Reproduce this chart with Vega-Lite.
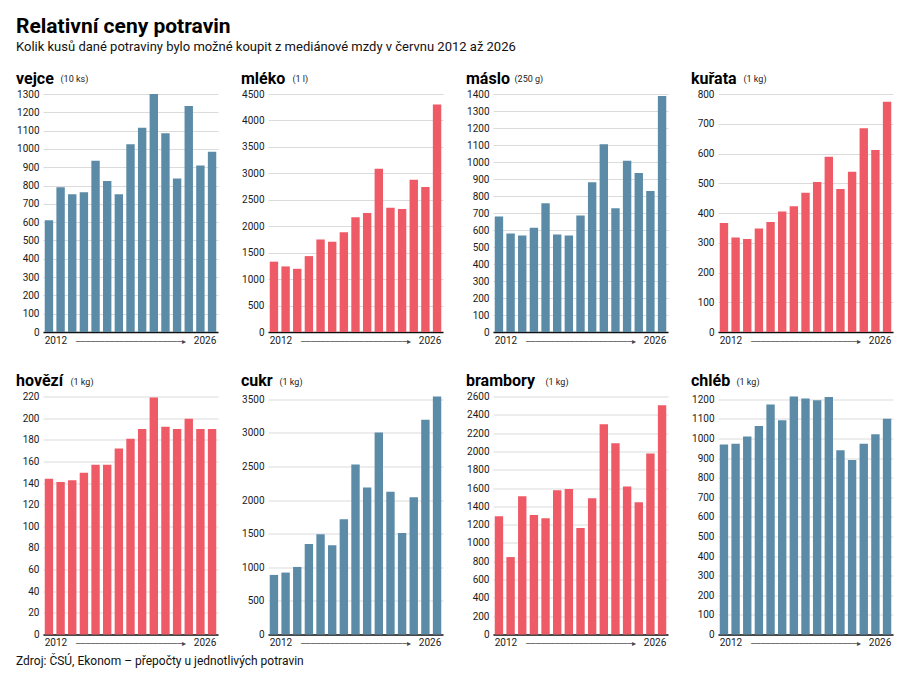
{
  "$schema": "https://vega.github.io/schema/vega-lite/v6.json",
  "description": "Relativní ceny potravin: kolik kusů dané potraviny bylo možné koupit z mediánové mzdy, 2012 až 2026.",
  "background": "#ffffff",
  "padding": {"left": 16, "top": 16, "right": 4, "bottom": 2},
  "title": {
    "text": "Relativní ceny potravin",
    "subtitle": "Kolik kusů dané potraviny bylo možné koupit z mediánové mzdy v červnu 2012 až 2026",
    "font": "Roboto",
    "fontSize": 21,
    "fontWeight": "bold",
    "subtitleFont": "Roboto",
    "subtitleFontSize": 13,
    "subtitleColor": "#111",
    "subtitlePadding": -3,
    "offset": -0.5,
    "baseline": "alphabetic"
  },
  "datasets": {
    "ceny": [
      {"potravina": "vejce", "rok": 2012, "pocet": 610},
      {"potravina": "vejce", "rok": 2013, "pocet": 790},
      {"potravina": "vejce", "rok": 2014, "pocet": 752},
      {"potravina": "vejce", "rok": 2015, "pocet": 763},
      {"potravina": "vejce", "rok": 2016, "pocet": 935},
      {"potravina": "vejce", "rok": 2017, "pocet": 825},
      {"potravina": "vejce", "rok": 2018, "pocet": 752},
      {"potravina": "vejce", "rok": 2019, "pocet": 1025},
      {"potravina": "vejce", "rok": 2020, "pocet": 1115},
      {"potravina": "vejce", "rok": 2021, "pocet": 1300},
      {"potravina": "vejce", "rok": 2022, "pocet": 1085},
      {"potravina": "vejce", "rok": 2023, "pocet": 838},
      {"potravina": "vejce", "rok": 2024, "pocet": 1235},
      {"potravina": "vejce", "rok": 2025, "pocet": 910},
      {"potravina": "vejce", "rok": 2026, "pocet": 985},
      {"potravina": "mléko", "rok": 2012, "pocet": 1330},
      {"potravina": "mléko", "rok": 2013, "pocet": 1240},
      {"potravina": "mléko", "rok": 2014, "pocet": 1195},
      {"potravina": "mléko", "rok": 2015, "pocet": 1435},
      {"potravina": "mléko", "rok": 2016, "pocet": 1750},
      {"potravina": "mléko", "rok": 2017, "pocet": 1705},
      {"potravina": "mléko", "rok": 2018, "pocet": 1885},
      {"potravina": "mléko", "rok": 2019, "pocet": 2170},
      {"potravina": "mléko", "rok": 2020, "pocet": 2250},
      {"potravina": "mléko", "rok": 2021, "pocet": 3085},
      {"potravina": "mléko", "rok": 2022, "pocet": 2350},
      {"potravina": "mléko", "rok": 2023, "pocet": 2325},
      {"potravina": "mléko", "rok": 2024, "pocet": 2880},
      {"potravina": "mléko", "rok": 2025, "pocet": 2740},
      {"potravina": "mléko", "rok": 2026, "pocet": 4300},
      {"potravina": "máslo", "rok": 2012, "pocet": 679},
      {"potravina": "máslo", "rok": 2013, "pocet": 580},
      {"potravina": "máslo", "rok": 2014, "pocet": 568},
      {"potravina": "máslo", "rok": 2015, "pocet": 613},
      {"potravina": "máslo", "rok": 2016, "pocet": 758},
      {"potravina": "máslo", "rok": 2017, "pocet": 574},
      {"potravina": "máslo", "rok": 2018, "pocet": 568},
      {"potravina": "máslo", "rok": 2019, "pocet": 685},
      {"potravina": "máslo", "rok": 2020, "pocet": 881},
      {"potravina": "máslo", "rok": 2021, "pocet": 1104},
      {"potravina": "máslo", "rok": 2022, "pocet": 728},
      {"potravina": "máslo", "rok": 2023, "pocet": 1008},
      {"potravina": "máslo", "rok": 2024, "pocet": 936},
      {"potravina": "máslo", "rok": 2025, "pocet": 830},
      {"potravina": "máslo", "rok": 2026, "pocet": 1388},
      {"potravina": "kuřata", "rok": 2012, "pocet": 366},
      {"potravina": "kuřata", "rok": 2013, "pocet": 318},
      {"potravina": "kuřata", "rok": 2014, "pocet": 313},
      {"potravina": "kuřata", "rok": 2015, "pocet": 348},
      {"potravina": "kuřata", "rok": 2016, "pocet": 370},
      {"potravina": "kuřata", "rok": 2017, "pocet": 405},
      {"potravina": "kuřata", "rok": 2018, "pocet": 423},
      {"potravina": "kuřata", "rok": 2019, "pocet": 468},
      {"potravina": "kuřata", "rok": 2020, "pocet": 504},
      {"potravina": "kuřata", "rok": 2021, "pocet": 589},
      {"potravina": "kuřata", "rok": 2022, "pocet": 481},
      {"potravina": "kuřata", "rok": 2023, "pocet": 539},
      {"potravina": "kuřata", "rok": 2024, "pocet": 685},
      {"potravina": "kuřata", "rok": 2025, "pocet": 612},
      {"potravina": "kuřata", "rok": 2026, "pocet": 774},
      {"potravina": "hovězí", "rok": 2012, "pocet": 144},
      {"potravina": "hovězí", "rok": 2013, "pocet": 141},
      {"potravina": "hovězí", "rok": 2014, "pocet": 142.5},
      {"potravina": "hovězí", "rok": 2015, "pocet": 149.5},
      {"potravina": "hovězí", "rok": 2016, "pocet": 157},
      {"potravina": "hovězí", "rok": 2017, "pocet": 157},
      {"potravina": "hovězí", "rok": 2018, "pocet": 172},
      {"potravina": "hovězí", "rok": 2019, "pocet": 181},
      {"potravina": "hovězí", "rok": 2020, "pocet": 190},
      {"potravina": "hovězí", "rok": 2021, "pocet": 219},
      {"potravina": "hovězí", "rok": 2022, "pocet": 192},
      {"potravina": "hovězí", "rok": 2023, "pocet": 190},
      {"potravina": "hovězí", "rok": 2024, "pocet": 199.5},
      {"potravina": "hovězí", "rok": 2025, "pocet": 190},
      {"potravina": "hovězí", "rok": 2026, "pocet": 190},
      {"potravina": "cukr", "rok": 2012, "pocet": 886},
      {"potravina": "cukr", "rok": 2013, "pocet": 921},
      {"potravina": "cukr", "rok": 2014, "pocet": 1005},
      {"potravina": "cukr", "rok": 2015, "pocet": 1347},
      {"potravina": "cukr", "rok": 2016, "pocet": 1490},
      {"potravina": "cukr", "rok": 2017, "pocet": 1327},
      {"potravina": "cukr", "rok": 2018, "pocet": 1713},
      {"potravina": "cukr", "rok": 2019, "pocet": 2530},
      {"potravina": "cukr", "rok": 2020, "pocet": 2188},
      {"potravina": "cukr", "rok": 2021, "pocet": 3005},
      {"potravina": "cukr", "rok": 2022, "pocet": 2124},
      {"potravina": "cukr", "rok": 2023, "pocet": 1510},
      {"potravina": "cukr", "rok": 2024, "pocet": 2040},
      {"potravina": "cukr", "rok": 2025, "pocet": 3193},
      {"potravina": "cukr", "rok": 2026, "pocet": 3540},
      {"potravina": "brambory", "rok": 2012, "pocet": 1291},
      {"potravina": "brambory", "rok": 2013, "pocet": 846},
      {"potravina": "brambory", "rok": 2014, "pocet": 1510},
      {"potravina": "brambory", "rok": 2015, "pocet": 1306},
      {"potravina": "brambory", "rok": 2016, "pocet": 1269},
      {"potravina": "brambory", "rok": 2017, "pocet": 1575},
      {"potravina": "brambory", "rok": 2018, "pocet": 1590},
      {"potravina": "brambory", "rok": 2019, "pocet": 1163},
      {"potravina": "brambory", "rok": 2020, "pocet": 1488},
      {"potravina": "brambory", "rok": 2021, "pocet": 2298},
      {"potravina": "brambory", "rok": 2022, "pocet": 2090},
      {"potravina": "brambory", "rok": 2023, "pocet": 1616},
      {"potravina": "brambory", "rok": 2024, "pocet": 1444},
      {"potravina": "brambory", "rok": 2025, "pocet": 1977},
      {"potravina": "brambory", "rok": 2026, "pocet": 2505},
      {"potravina": "chléb", "rok": 2012, "pocet": 969},
      {"potravina": "chléb", "rok": 2013, "pocet": 973},
      {"potravina": "chléb", "rok": 2014, "pocet": 1010},
      {"potravina": "chléb", "rok": 2015, "pocet": 1063},
      {"potravina": "chléb", "rok": 2016, "pocet": 1173},
      {"potravina": "chléb", "rok": 2017, "pocet": 1093},
      {"potravina": "chléb", "rok": 2018, "pocet": 1214},
      {"potravina": "chléb", "rok": 2019, "pocet": 1204},
      {"potravina": "chléb", "rok": 2020, "pocet": 1195},
      {"potravina": "chléb", "rok": 2021, "pocet": 1212},
      {"potravina": "chléb", "rok": 2022, "pocet": 940},
      {"potravina": "chléb", "rok": 2023, "pocet": 890},
      {"potravina": "chléb", "rok": 2024, "pocet": 973},
      {"potravina": "chléb", "rok": 2025, "pocet": 1022},
      {"potravina": "chléb", "rok": 2026, "pocet": 1100}
    ]
  },
  "vconcat": [
    {
      "title": {
        "text": "Zdroj: ČSÚ, Ekonom – přepočty u jednotlivých potravin",
        "orient": "bottom",
        "font": "Roboto",
        "fontSize": 12,
        "fontWeight": "normal",
        "color": "#111",
        "offset": 7
      },
      "columns": 4,
      "spacing": {"row": 26.5, "column": 23},
      "concat": [
        {
          "title": "vejce",
          "data": {"name": "ceny"},
          "transform": [{"filter": "datum.potravina == 'vejce'"}],
          "mark": {"type": "bar", "color": "#5b8ba6"},
          "encoding": {
            "x": {"field": "rok", "type": "ordinal", "axis": {"title": "──────────────────────▸", "labelExpr": "datum.value == 2012 || datum.value == 2026 ? datum.label : ''"}},
            "y": {"field": "pocet", "type": "quantitative", "scale": {"domain": [0, 1300], "nice": false},
                  "axis": {"title": "(10 ks)", "titleX": 17, "values": [0, 100, 200, 300, 400, 500, 600, 700, 800, 900, 1000, 1100, 1200, 1300]}}
          }
        },
        {
          "title": "mléko",
          "data": {"name": "ceny"},
          "transform": [{"filter": "datum.potravina == 'mléko'"}],
          "mark": {"type": "bar", "color": "#ee5a66"},
          "encoding": {
            "x": {"field": "rok", "type": "ordinal", "axis": {"title": "──────────────────────▸", "labelExpr": "datum.value == 2012 || datum.value == 2026 ? datum.label : ''"}},
            "y": {"field": "pocet", "type": "quantitative", "scale": {"domain": [0, 4500], "nice": false},
                  "axis": {"title": "(1 l)", "titleX": 24, "values": [0, 500, 1000, 1500, 2000, 2500, 3000, 3500, 4000, 4500]}}
          }
        },
        {
          "title": "máslo",
          "data": {"name": "ceny"},
          "transform": [{"filter": "datum.potravina == 'máslo'"}],
          "mark": {"type": "bar", "color": "#5b8ba6"},
          "encoding": {
            "x": {"field": "rok", "type": "ordinal", "axis": {"title": "──────────────────────▸", "labelExpr": "datum.value == 2012 || datum.value == 2026 ? datum.label : ''"}},
            "y": {"field": "pocet", "type": "quantitative", "scale": {"domain": [0, 1400], "nice": false},
                  "axis": {"title": "(250 g)", "titleX": 21, "values": [0, 100, 200, 300, 400, 500, 600, 700, 800, 900, 1000, 1100, 1200, 1300, 1400]}}
          }
        },
        {
          "title": "kuřata",
          "data": {"name": "ceny"},
          "transform": [{"filter": "datum.potravina == 'kuřata'"}],
          "mark": {"type": "bar", "color": "#ee5a66"},
          "encoding": {
            "x": {"field": "rok", "type": "ordinal", "axis": {"title": "──────────────────────▸", "labelExpr": "datum.value == 2012 || datum.value == 2026 ? datum.label : ''"}},
            "y": {"field": "pocet", "type": "quantitative", "scale": {"domain": [0, 800], "nice": false},
                  "axis": {"title": "(1 kg)", "titleX": 25, "values": [0, 100, 200, 300, 400, 500, 600, 700, 800]}}
          }
        },
        {
          "title": "hovězí",
          "data": {"name": "ceny"},
          "transform": [{"filter": "datum.potravina == 'hovězí'"}],
          "mark": {"type": "bar", "color": "#ee5a66"},
          "encoding": {
            "x": {"field": "rok", "type": "ordinal", "axis": {"title": "──────────────────────▸", "labelExpr": "datum.value == 2012 || datum.value == 2026 ? datum.label : ''"}},
            "y": {"field": "pocet", "type": "quantitative", "scale": {"domain": [0, 220], "nice": false},
                  "axis": {"title": "(1 kg)", "titleX": 27, "values": [0, 20, 40, 60, 80, 100, 120, 140, 160, 180, 200, 220]}}
          }
        },
        {
          "title": "cukr",
          "data": {"name": "ceny"},
          "transform": [{"filter": "datum.potravina == 'cukr'"}],
          "mark": {"type": "bar", "color": "#5b8ba6"},
          "encoding": {
            "x": {"field": "rok", "type": "ordinal", "axis": {"title": "──────────────────────▸", "labelExpr": "datum.value == 2012 || datum.value == 2026 ? datum.label : ''"}},
            "y": {"field": "pocet", "type": "quantitative", "scale": {"domain": [0, 3540], "nice": false},
                  "axis": {"title": "(1 kg)", "titleX": 11, "values": [0, 500, 1000, 1500, 2000, 2500, 3000, 3500]}}
          }
        },
        {
          "title": "brambory",
          "data": {"name": "ceny"},
          "transform": [{"filter": "datum.potravina == 'brambory'"}],
          "mark": {"type": "bar", "color": "#ee5a66"},
          "encoding": {
            "x": {"field": "rok", "type": "ordinal", "axis": {"title": "──────────────────────▸", "labelExpr": "datum.value == 2012 || datum.value == 2026 ? datum.label : ''"}},
            "y": {"field": "pocet", "type": "quantitative", "scale": {"domain": [0, 2600], "nice": false},
                  "axis": {"title": "(1 kg)", "titleX": 52, "values": [0, 200, 400, 600, 800, 1000, 1200, 1400, 1600, 1800, 2000, 2200, 2400, 2600]}}
          }
        },
        {
          "title": "chléb",
          "data": {"name": "ceny"},
          "transform": [{"filter": "datum.potravina == 'chléb'"}],
          "mark": {"type": "bar", "color": "#5b8ba6"},
          "encoding": {
            "x": {"field": "rok", "type": "ordinal", "axis": {"title": "──────────────────────▸", "labelExpr": "datum.value == 2012 || datum.value == 2026 ? datum.label : ''"}},
            "y": {"field": "pocet", "type": "quantitative", "scale": {"domain": [0, 1214], "nice": false},
                  "axis": {"title": "(1 kg)", "titleX": 18, "values": [0, 100, 200, 300, 400, 500, 600, 700, 800, 900, 1000, 1100, 1200]}}
          }
        }
      ]
    }
  ],
  "config": {
    "numberFormat": "d",
    "view": {"stroke": null, "continuousWidth": 175, "continuousHeight": 238, "discreteWidth": 175, "discreteHeight": 238},
    "scale": {"bandPaddingInner": 0.28, "bandPaddingOuter": 0.15},
    "title": {
      "anchor": "start",
      "frame": "bounds",
      "font": "Roboto",
      "fontSize": 16,
      "fontWeight": "bold",
      "color": "#000",
      "baseline": "alphabetic",
      "offset": -12
    },
    "axisX": {
      "domainColor": "#111",
      "domainWidth": 1.6,
      "ticks": false,
      "grid": false,
      "labelAngle": 0,
      "labelFont": "Roboto",
      "labelFontSize": 10,
      "labelColor": "#1a1a1a",
      "labelPadding": 3,
      "labelOverlap": false,
      "labelFlush": 12,
      "labelFlushOffset": 4.3,
      "titleFont": "DejaVu Sans",
      "titleFontSize": 8,
      "titleFontWeight": "normal",
      "titleColor": "#444",
      "titleY": 9,
      "titleBaseline": "middle",
      "minExtent": 14,
      "maxExtent": 14
    },
    "axisY": {
      "domain": false,
      "ticks": false,
      "gridColor": "#d2d2d2",
      "gridWidth": 0.8,
      "labelFont": "Roboto",
      "labelFontSize": 10,
      "labelColor": "#1a1a1a",
      "labelPadding": 4,
      "minExtent": 27,
      "maxExtent": 27,
      "titleAngle": 0,
      "titleAlign": "left",
      "titleBaseline": "alphabetic",
      "titleY": -12.5,
      "titleFont": "Roboto",
      "titleFontSize": 9,
      "titleFontWeight": "normal",
      "titleColor": "#222"
    }
  }
}
